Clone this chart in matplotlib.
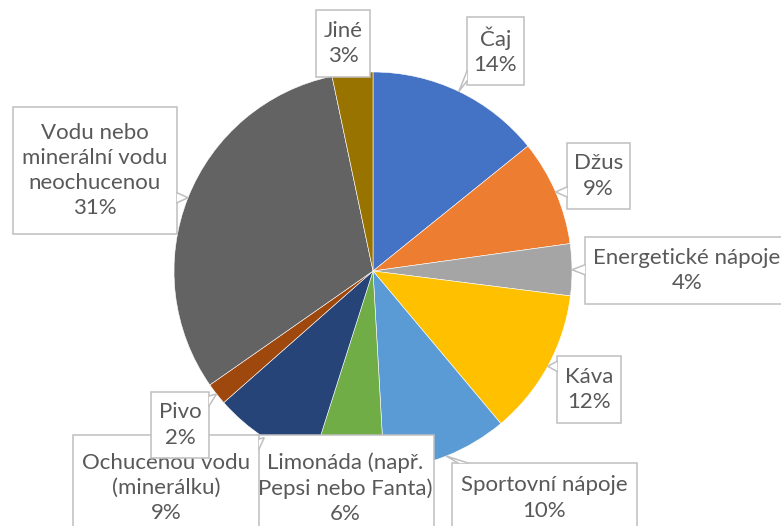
import matplotlib
matplotlib.use("Agg")
import matplotlib.pyplot as plt
from matplotlib.patches import Rectangle, Polygon
import numpy as np

# ---- data ----
categories = ["Čaj", "Džus", "Energetické nápoje", "Káva", "Sportovní nápoje",
              "Limonáda (např.\nPepsi nebo Fanta)", "Ochucenou vodu\n(minerálku)",
              "Pivo", "Vodu nebo\nminerální vodu\nneochucenou", "Jiné"]
values = [14.2, 8.6, 4.2, 11.9, 10.2, 5.8, 8.6, 1.8, 31.4, 3.3]
colors = ["#4472C4", "#ED7D31", "#A5A5A5", "#FFC000", "#5B9BD5",
          "#70AD47", "#264478", "#9E480E", "#636363", "#997300"]

# ---- layout (pixel boxes, top-left origin: x0, y0, x1, y1) ----
W, H = 781, 526
label_boxes = [
    (467, 17, 524, 85),
    (567, 143, 630, 209),
    (585, 237, 790, 304),
    (557, 356, 621, 423),
    (452, 463, 637, 533),
    (257, 435, 434, 541),
    (73, 435, 259, 541),
    (151, 392, 209, 458),
    (13, 107, 177, 234),
    (316, 10, 370, 77),
]
text_x_override = {2: 687}
cx, cy, R = 373, 271, 199

plt.rcParams['font.family'] = ['Lato', 'DejaVu Sans']
fig = plt.figure(figsize=(W / 100, H / 100), dpi=100)
ax = fig.add_axes([0, 0, 1, 1])
ax.set_xlim(0, W)
ax.set_ylim(0, H)
ax.set_aspect('equal')
ax.axis('off')

def Y(y):
    return H - y

wedges, _ = ax.pie(values, colors=colors, startangle=90, counterclock=False,
                   center=(cx, Y(cy)), radius=R,
                   wedgeprops=dict(edgecolor='white', linewidth=0.4))
ax.set_xlim(0, W)
ax.set_ylim(0, H)

total = sum(values)
edge_col = "#BFBFBF"
txt_col = "#595959"

for i, (w, name, v) in enumerate(zip(wedges, categories, values)):
    x0, y0, x1, y1 = label_boxes[i]
    z = 10 + i * 3
    rect = Rectangle((x0, Y(y1)), x1 - x0, y1 - y0, facecolor='white',
                     edgecolor=edge_col, linewidth=1.1, zorder=z)
    ax.add_patch(rect)
    # pointer to slice mid-angle
    mid = np.deg2rad((w.theta1 + w.theta2) / 2)
    ax_ = cx + R * np.cos(mid)
    ay_ = cy - R * np.sin(mid)
    inside = x0 <= ax_ <= x1 and y0 <= ay_ <= y1
    if not inside:
        dxl, dxr = x0 - ax_, ax_ - x1
        dyt, dyb = y0 - ay_, ay_ - y1
        m = max(dxl, dxr, dyt, dyb)
        hw = 5
        if m == dxl or m == dxr:
            ex = x0 if m == dxl else x1
            yy = min(max(ay_, y0 + hw + 4), y1 - hw - 4)
            b1, b2 = (ex, yy - hw), (ex, yy + hw)
        else:
            ey = y0 if m == dyt else y1
            xx = min(max(ax_ + (10 if ax_ < x0 else 0), x0 + hw + 6), x1 - hw - 6)
            b1, b2 = (xx - hw, ey), (xx + hw, ey)
        tri = Polygon([(b1[0], Y(b1[1])), (ax_, Y(ay_)), (b2[0], Y(b2[1]))],
                      closed=True, facecolor='white', edgecolor='none', zorder=z + 1)
        ax.add_patch(tri)
        ax.plot([b1[0], ax_, b2[0]], [Y(b1[1]), Y(ay_), Y(b2[1])], color=edge_col,
                linewidth=1.1, zorder=z + 1, solid_joinstyle='miter')
    tx = text_x_override.get(i, (x0 + x1) / 2)
    ty = (y0 + y1) / 2
    label = f"{name}\n{round(v / total * 100)}%"
    ax.text(tx, Y(ty), label, ha='center', va='center', fontsize=16,
            color=txt_col, linespacing=1.32, zorder=z + 2)

fig.savefig("out.png", dpi=100)
